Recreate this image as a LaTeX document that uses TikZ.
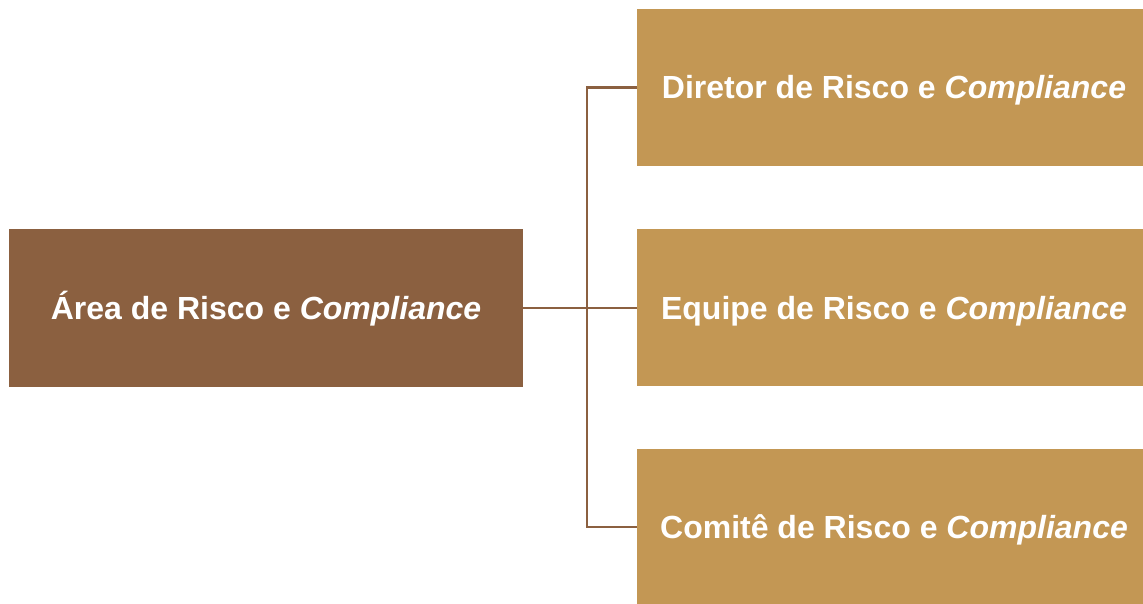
\documentclass[tikz,border=0pt]{standalone}
\usepackage{fontspec}
\setmainfont{Liberation Sans}
\definecolor{darkbrown}{HTML}{8B6040}
\definecolor{lightbrown}{HTML}{C39754}
\begin{document}
\begin{tikzpicture}[x=1pt,y=1pt,
  box/.style={rectangle, inner sep=0pt, text=white, text height=23pt, text depth=0pt, font=\fontsize{32}{36}\selectfont\bfseries},
  mainbox/.style={box, fill=darkbrown, minimum width=514pt, minimum height=158pt},
  subbox/.style={box, fill=lightbrown, minimum width=506pt, minimum height=157pt},
  conn/.style={draw=darkbrown, line width=2.3pt}]
\useasboundingbox (0,0) rectangle (1143,603);
\begin{scope}
\clip (0,0) rectangle (1143,603);
\node[mainbox] (L) at (266,295) {Área de Risco e \textit{Compliance}};
\node[subbox] (T) at (890,515.5) {\kern8pt Diretor de Risco e \textit{Compliance}};
\node[subbox] (M) at (890,295) {\kern8pt Equipe de Risco e \textit{Compliance}};
\node[subbox, minimum height=156pt] (B) at (890,76) {\kern8pt Comitê de Risco e \textit{Compliance}};
\end{scope}
\draw[conn] (L.east) -- (M.west);
\draw[conn] (T.west) -- ++(-50,0) |- (B.west);
\end{tikzpicture}
\end{document}
